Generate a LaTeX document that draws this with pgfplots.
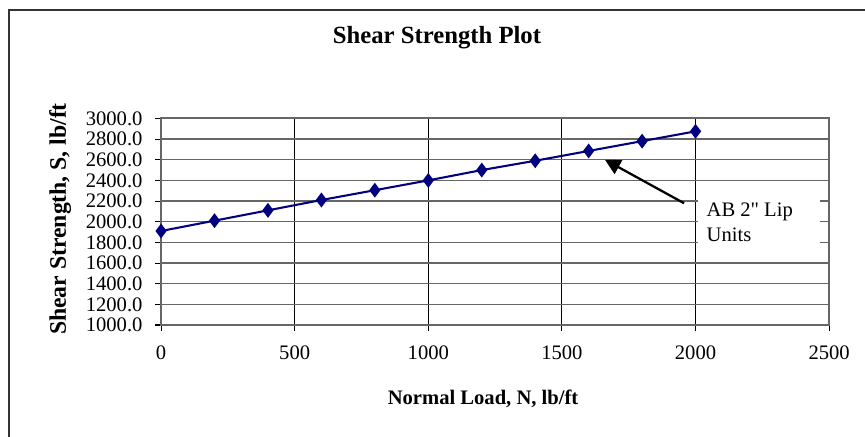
\documentclass[border=0pt]{standalone}
\usepackage{pgfplots}
\pgfplotsset{compat=1.18}
\usetikzlibrary{arrows.meta}
\usepackage{fontspec}
\setmainfont{Liberation Serif}
\newfontfamily\annfont[Ligatures=TeXOff]{Liberation Serif}
\definecolor{serblue}{HTML}{000080}
\begin{document}
\begin{tikzpicture}
\useasboundingbox (0,0) rectangle (420pt,211.7pt);
\draw[black!80, line width=0.8pt] (4.5pt,-1pt) -- (4.5pt,206.9pt) -- (421pt,206.9pt);
\begin{axis}[
  at={(78.2pt,53.9pt)}, anchor=south west,
  scale only axis, width=324.4pt, height=100.3pt,
  xmin=0, xmax=2500, ymin=1000, ymax=3000,
  xtick={0,500,...,2500}, ytick={1000,1200,...,3000},
  xtick pos=bottom, ytick pos=left,
  tick align=outside, major tick length=3pt,
  tick style={black, line width=0.5pt},
  axis line style={black!60, line width=0.9pt},
  grid=major,
  x grid style={black, line width=0.45pt},
  y grid style={black!60, line width=0.7pt},
  /pgf/number format/assume math mode=true,
  /pgf/number format/1000 sep={},
  yticklabel style={/pgf/number format/fixed, /pgf/number format/fixed zerofill, /pgf/number format/precision=1, xshift=-2.5pt, font=\fontsize{10}{12}\selectfont},
  xticklabel style={yshift=-3.8pt, font=\fontsize{10}{12}\selectfont},
  scaled ticks=false,
  title={\textbf{Shear Strength Plot}},
  title style={at={(rel axis cs:0.413,1.33)}, anchor=center, font=\fontsize{12}{14}\selectfont},
  xlabel={\textbf{Normal Load, N, lb/ft}},
  xlabel style={at={(rel axis cs:0.482,-0.358)}, anchor=center, font=\fontsize{10}{12}\selectfont},
  ylabel={\textbf{Shear Strength, S, lb/ft}},
  ylabel style={at={(rel axis cs:-0.151,0.513)}, anchor=center, rotate=0, font=\fontsize{11.5}{13}\selectfont},
  clip=false,
]
\addplot[serblue, line width=1pt, mark=diamond*, mark size=2.8pt, mark options={fill=serblue, draw=serblue}] coordinates {
 (0,1910) (200,2010) (400,2110) (600,2210) (800,2305) (1000,2400)
 (1200,2500) (1400,2590) (1600,2685) (1800,2780) (2000,2875)
};
\fill[white] (axis cs:2010,1680) rectangle (axis cs:2465,2310);
\node[anchor=base west, inner sep=0pt, font=\annfont\fontsize{10}{12}\selectfont] at (axis cs:2040,2049) {AB 2" Lip};
\node[anchor=base west, inner sep=0pt, font=\annfont\fontsize{10}{12}\selectfont] at (axis cs:2040,1807) {Units};
\draw[black, line width=1.1pt, -{Triangle[width=7.5pt,length=7.5pt]}] (axis cs:1957,2179) -- (axis cs:1661,2600);
\end{axis}
\end{tikzpicture}
\end{document}
